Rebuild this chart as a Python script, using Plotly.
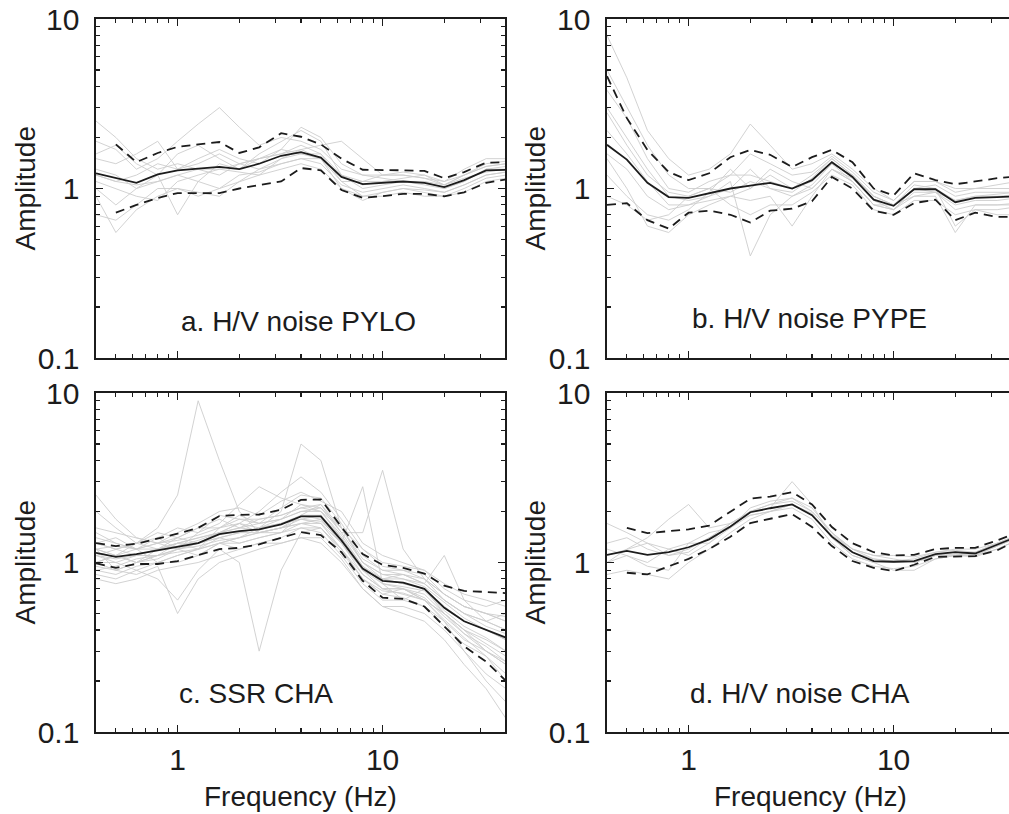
import plotly.graph_objects as go
import math

# ---------------- data ----------------
FREQ = [0.4, 0.5, 0.63, 0.8, 1.0, 1.26, 1.6, 2.0, 2.5, 3.2, 4.0, 5.0, 6.3, 8.0,
        10, 12.6, 16, 20, 25, 32, 40]

X_TICKS = [1, 10]
X_TICK_TEXT = ["1", "10"]
X_MINOR = [0.4, 0.5, 0.6, 0.7, 0.8, 0.9, 2, 3, 4, 5, 6, 7, 8, 9, 20, 30, 40]
Y_TICKS = [0.1, 1, 10]
Y_TICK_TEXT = ["0.1", "1", "10"]
Y_MINOR = [0.2, 0.3, 0.4, 0.5, 0.6, 0.7, 0.8, 0.9, 2, 3, 4, 5, 6, 7, 8, 9]

LABELS = ["a. H/V noise PYLO", "b. H/V noise PYPE", "c. SSR CHA", "d. H/V noise CHA"]
Y_TITLE = "Amplitude"
X_TITLE = "Frequency (Hz)"

# panel a
A_MEAN = [1.23, 1.15, 1.08, 1.21, 1.28, 1.31, 1.34, 1.30, 1.40, 1.56, 1.64, 1.52, 1.17, 1.06, 1.08, 1.10, 1.08, 1.02, 1.12, 1.28, 1.29]
A_UP = [None, 1.82, 1.43, 1.62, 1.76, 1.82, 1.88, 1.62, 1.75, 2.12, 2.02, 1.82, 1.50, 1.29, 1.29, 1.28, 1.27, 1.15, 1.25, 1.42, 1.43]
A_LO = [None, 0.72, 0.80, 0.88, 0.94, 0.94, 0.94, 1.00, 1.05, 1.10, 1.32, 1.28, 0.98, 0.88, 0.90, 0.93, 0.93, 0.90, 0.95, 1.08, 1.13]
A_GRAY = [
    [1.9, 1.7, 1.3, 1.5, 1.9, 2.4, 3.0, 2.3, 1.8, 2.0, 1.9, 1.7, 1.3, 1.2, 1.2, 1.25, 1.2, 1.1, 1.3, 1.5, 1.5],
    [0.9, 0.55, 0.75, 0.9, 1.0, 0.95, 0.9, 1.1, 1.3, 1.4, 1.5, 1.5, 1.0, 0.85, 0.95, 1.0, 0.95, 0.9, 1.0, 1.15, 1.2],
    [1.3, 1.2, 1.0, 1.2, 0.7, 1.1, 1.4, 1.3, 1.6, 1.9, 2.2, 1.9, 1.2, 1.0, 1.05, 1.1, 1.05, 1.0, 1.1, 1.3, 1.35],
    [1.5, 1.4, 1.6, 1.9, 1.3, 1.5, 1.7, 1.5, 1.4, 1.7, 1.6, 1.5, 1.1, 1.1, 1.1, 1.15, 1.2, 1.05, 1.15, 1.25, 1.3],
    [1.0, 0.8, 1.0, 1.1, 1.2, 1.1, 1.0, 1.2, 1.25, 1.4, 1.5, 1.4, 1.05, 0.95, 1.0, 1.05, 1.0, 0.95, 1.05, 1.2, 1.25],
    [2.5, 2.0, 1.5, 1.3, 1.4, 1.3, 1.2, 1.4, 1.5, 1.7, 2.3, 2.0, 1.4, 1.2, 1.15, 1.1, 1.1, 1.05, 1.2, 1.4, 1.45],
    [1.1, 1.0, 0.9, 0.85, 1.1, 1.2, 1.3, 1.25, 1.2, 1.3, 1.4, 1.3, 1.0, 0.9, 0.95, 1.0, 0.98, 0.95, 1.05, 1.2, 1.25],
    [0.7, 0.65, 0.8, 1.0, 1.0, 0.9, 1.0, 1.1, 1.2, 1.5, 1.6, 1.6, 1.1, 0.9, 0.9, 0.95, 0.9, 0.9, 0.95, 1.1, 1.15],
    [1.6, 1.8, 1.4, 1.2, 1.6, 1.8, 1.5, 1.3, 1.5, 1.6, 1.8, 1.6, 1.2, 1.1, 1.2, 1.2, 1.15, 1.1, 1.2, 1.35, 1.4],
    [1.2, 1.1, 1.2, 1.4, 1.3, 1.4, 1.6, 1.4, 1.3, 1.5, 1.7, 1.5, 1.2, 1.05, 1.1, 1.1, 1.1, 1.0, 1.1, 1.3, 1.3],
    [1.2, 1.1, 1.05, 1.1, 1.2, 1.3, 1.3, 1.4, 1.5, 1.6, 1.7, 1.8, 1.9, 1.5, 1.2, 1.2, 1.15, 1.05, 1.2, 1.35, 1.4],
]

# panel b
B_MEAN = [1.81, 1.48, 1.08, 0.89, 0.88, 0.94, 1.00, 1.04, 1.08, 1.00, 1.12, 1.43, 1.17, 0.86, 0.79, 0.99, 0.99, 0.83, 0.88, 0.89, 0.90]
B_UP = [4.6, 2.6, 1.69, 1.25, 1.12, 1.23, 1.53, 1.69, 1.58, 1.34, 1.53, 1.69, 1.43, 1.00, 0.91, 1.23, 1.12, 1.06, 1.10, 1.15, 1.18]
B_LO = [0.80, 0.82, 0.65, 0.58, 0.72, 0.74, 0.70, 0.63, 0.74, 0.76, 0.84, 1.17, 1.00, 0.74, 0.70, 0.82, 0.86, 0.65, 0.72, 0.68, 0.68]
B_GRAY = [
    [8.0, 4.5, 2.2, 1.5, 1.2, 1.3, 1.6, 2.4, 1.8, 1.3, 1.4, 1.6, 1.3, 1.0, 0.85, 1.1, 1.1, 1.0, 1.0, 1.05, 1.1],
    [3.0, 2.0, 1.3, 0.9, 0.85, 0.9, 1.1, 0.4, 0.7, 0.9, 1.0, 1.3, 1.1, 0.8, 0.75, 0.9, 0.95, 0.75, 0.8, 0.8, 0.82],
    [1.5, 1.0, 0.6, 0.55, 0.7, 0.8, 0.9, 1.0, 1.2, 1.0, 1.1, 1.4, 1.1, 0.8, 0.75, 1.0, 1.0, 0.6, 0.75, 0.75, 0.78],
    [2.2, 1.6, 1.1, 0.8, 0.8, 0.9, 1.0, 1.3, 1.0, 0.95, 1.15, 1.5, 1.2, 0.9, 0.8, 1.05, 1.0, 0.85, 0.9, 0.9, 0.92],
    [1.2, 0.9, 0.7, 0.65, 0.75, 0.95, 1.3, 1.0, 1.3, 1.1, 1.0, 1.3, 1.15, 0.85, 0.75, 0.95, 0.95, 0.8, 0.85, 0.85, 0.88],
    [5.0, 3.0, 1.8, 1.2, 1.0, 1.0, 0.95, 1.1, 1.0, 0.9, 1.05, 1.4, 1.2, 0.9, 0.8, 1.0, 1.05, 0.9, 0.95, 0.95, 0.95],
    [0.9, 0.8, 0.65, 0.7, 0.9, 1.0, 0.8, 0.7, 0.8, 0.8, 0.95, 1.2, 1.05, 0.75, 0.7, 0.85, 0.85, 0.7, 0.75, 0.7, 0.7],
    [2.8, 1.8, 1.2, 0.95, 0.9, 1.0, 1.2, 1.6, 1.4, 1.2, 1.25, 1.55, 1.25, 0.95, 0.85, 1.1, 1.1, 0.95, 1.0, 1.0, 1.0],
    [1.6, 1.3, 0.9, 0.75, 0.8, 0.85, 0.9, 0.85, 0.9, 0.6, 0.9, 1.3, 1.1, 0.8, 0.8, 0.9, 0.9, 0.55, 0.8, 0.8, 0.8],
    [3.8, 2.6, 1.5, 1.0, 0.95, 1.1, 1.2, 1.2, 1.1, 1.0, 1.2, 1.5, 1.2, 0.9, 0.8, 1.0, 0.95, 0.85, 0.9, 0.92, 0.95],
]

# panel c
C_MEAN = [1.14, 1.08, 1.12, 1.18, 1.24, 1.30, 1.47, 1.53, 1.57, 1.68, 1.87, 1.87, 1.35, 0.92, 0.78, 0.76, 0.70, 0.54, 0.45, 0.40, 0.36]
C_UP = [1.30, 1.25, 1.29, 1.38, 1.48, 1.60, 1.88, 1.91, 1.92, 2.05, 2.34, 2.36, 1.62, 1.12, 0.97, 0.93, 0.86, 0.73, 0.68, 0.67, 0.66]
C_LO = [0.99, 0.93, 0.98, 0.98, 1.02, 1.10, 1.20, 1.22, 1.28, 1.40, 1.51, 1.45, 1.15, 0.78, 0.62, 0.61, 0.55, 0.42, 0.32, 0.26, 0.20]
C_GRAY = [
    [1.1, 1.0, 1.1, 1.2, 1.3, 1.4, 1.5, 1.6, 1.7, 1.8, 2.0, 2.0, 1.4, 0.9, 0.8, 0.75, 0.7, 0.55, 0.45, 0.4, 0.35],
    [1.4, 1.3, 1.2, 1.4, 1.6, 1.5, 1.9, 1.8, 1.7, 2.1, 2.5, 2.4, 1.7, 1.1, 0.9, 0.9, 0.8, 0.65, 0.55, 0.5, 0.45],
    [0.9, 0.85, 0.95, 1.0, 1.0, 1.1, 1.3, 1.3, 1.4, 1.5, 1.6, 1.5, 1.1, 0.75, 0.6, 0.6, 0.55, 0.42, 0.33, 0.28, 0.22],
    [1.2, 1.1, 1.3, 1.6, 2.5, 9.0, 4.0, 2.0, 1.5, 1.6, 1.8, 1.9, 1.3, 0.9, 0.7, 0.7, 0.6, 0.5, 0.4, 0.35, 0.3],
    [1.0, 1.0, 0.9, 0.8, 0.6, 0.9, 1.2, 1.0, 0.3, 0.9, 1.5, 1.6, 1.2, 0.85, 0.7, 0.65, 0.6, 0.45, 0.35, 0.3, 0.25],
    [2.5, 1.8, 1.4, 1.3, 1.2, 1.5, 1.7, 2.2, 2.8, 2.4, 2.2, 2.1, 1.5, 1.0, 0.85, 0.8, 0.75, 0.6, 0.5, 0.45, 0.4],
    [1.3, 1.2, 1.1, 1.1, 1.2, 1.3, 1.4, 1.5, 1.6, 2.0, 5.0, 4.0, 1.6, 1.0, 0.8, 0.75, 0.7, 0.55, 0.45, 0.4, 0.35],
    [0.8, 0.75, 0.8, 0.9, 0.95, 1.0, 1.1, 1.2, 1.3, 1.3, 1.4, 1.3, 1.0, 0.7, 0.55, 0.5, 0.45, 0.35, 0.25, 0.18, 0.12],
    [1.6, 1.5, 1.4, 1.3, 1.5, 1.7, 2.0, 2.1, 1.9, 2.3, 2.6, 2.3, 2.0, 1.3, 1.1, 1.0, 0.9, 0.75, 0.65, 0.6, 0.55],
    [1.0, 1.1, 1.2, 1.0, 1.1, 1.2, 1.3, 1.4, 1.5, 1.6, 1.7, 1.8, 1.3, 0.85, 0.7, 0.7, 0.65, 0.5, 0.4, 0.33, 0.28],
    [1.2, 0.9, 1.0, 1.1, 1.3, 1.2, 1.6, 1.7, 1.5, 1.5, 1.9, 2.2, 1.5, 1.5, 3.5, 1.2, 0.8, 0.6, 0.5, 0.42, 0.38],
    [1.1, 1.2, 1.3, 1.4, 1.2, 1.1, 1.3, 1.4, 1.6, 1.7, 1.8, 1.7, 1.2, 0.8, 0.65, 0.7, 0.6, 0.5, 0.38, 0.3, 0.26],
    [0.95, 0.9, 1.0, 1.1, 1.15, 1.2, 1.4, 1.5, 1.5, 1.6, 1.9, 1.8, 1.3, 0.9, 0.75, 0.72, 0.68, 0.52, 0.42, 0.36, 0.3],
    [1.3, 1.4, 1.2, 1.2, 1.4, 1.6, 1.8, 1.6, 1.8, 1.9, 2.1, 2.0, 1.6, 1.2, 1.0, 0.95, 0.9, 0.7, 0.6, 0.55, 0.6],
    [1.0, 0.9, 0.85, 0.95, 0.5, 0.8, 1.0, 1.1, 1.2, 1.3, 1.4, 1.4, 1.05, 0.7, 0.55, 0.55, 0.5, 0.4, 0.3, 0.2, 0.15],
    [2.0, 1.6, 1.3, 1.2, 1.3, 1.4, 1.5, 1.7, 2.0, 2.6, 3.2, 2.6, 1.8, 1.2, 0.95, 0.9, 0.85, 0.65, 0.55, 0.5, 0.45],
    [1.1, 1.05, 1.1, 1.2, 1.25, 1.35, 1.5, 1.6, 1.55, 1.7, 1.9, 1.9, 1.4, 0.95, 0.8, 0.8, 0.72, 0.58, 0.47, 0.4, 0.35],
    [0.85, 0.8, 0.9, 1.0, 1.1, 1.2, 1.3, 1.2, 1.3, 1.4, 1.6, 1.6, 1.2, 0.8, 0.65, 0.62, 0.55, 0.45, 0.3, 0.22, 0.18],
    [1.5, 1.3, 1.2, 1.3, 1.4, 1.6, 1.6, 1.9, 1.7, 1.8, 2.0, 2.1, 1.6, 1.0, 0.85, 0.85, 0.75, 0.6, 0.5, 0.45, 0.5],
    [1.2, 1.1, 1.0, 1.2, 1.3, 1.3, 1.4, 1.3, 1.4, 1.5, 1.7, 1.7, 1.3, 2.8, 0.75, 0.6, 0.7, 0.5, 0.4, 0.3, 0.25],
    [1.0, 1.1, 1.0, 1.05, 1.2, 1.3, 1.5, 1.5, 1.6, 1.7, 1.8, 1.75, 1.35, 0.9, 0.8, 0.85, 0.75, 1.1, 0.6, 0.45, 0.4],
    [1.3, 1.2, 1.3, 1.5, 1.4, 1.3, 1.5, 1.7, 1.6, 1.8, 2.2, 2.0, 1.45, 0.95, 0.75, 0.7, 0.62, 0.48, 0.38, 0.32, 0.26],
    [0.9, 0.95, 1.05, 1.1, 1.2, 1.25, 1.35, 1.4, 1.5, 1.6, 1.7, 1.6, 1.15, 0.8, 0.68, 0.66, 0.6, 0.46, 0.36, 0.28, 0.2],
    [1.2, 1.25, 1.2, 1.3, 1.35, 1.45, 1.6, 1.8, 1.8, 1.9, 2.1, 2.2, 1.6, 1.05, 0.9, 0.85, 0.8, 0.65, 0.55, 0.5, 0.48],
]

# panel d
D_MEAN = [1.11, 1.17, 1.11, 1.15, 1.23, 1.37, 1.63, 1.98, 2.09, 2.20, 1.90, 1.42, 1.15, 1.02, 1.01, 1.02, 1.12, 1.15, 1.13, 1.28, 1.42]
D_UP = [None, 1.60, 1.49, 1.53, 1.57, 1.65, 2.00, 2.38, 2.45, 2.60, 2.20, 1.62, 1.30, 1.15, 1.10, 1.11, 1.20, 1.22, 1.22, 1.35, 1.50]
D_LO = [None, 0.87, 0.85, 0.95, 1.05, 1.20, 1.42, 1.71, 1.82, 1.93, 1.62, 1.25, 1.02, 0.93, 0.89, 0.97, 1.08, 1.08, 1.09, 1.18, 1.35]
D_GRAY = [
    [1.0, 1.2, 1.4, 1.8, 2.2, 1.6, 1.7, 2.0, 2.2, 2.4, 2.0, 1.5, 1.2, 1.05, 1.0, 1.0, 1.1, 1.15, 1.1, 1.25, 1.4],
    [1.3, 1.4, 1.2, 1.1, 1.2, 1.4, 1.7, 2.0, 2.1, 3.0, 2.2, 1.4, 1.1, 1.0, 1.0, 1.0, 1.1, 1.1, 1.15, 1.3, 1.45],
    [0.85, 0.9, 0.85, 0.8, 1.0, 1.2, 1.5, 1.8, 2.0, 2.1, 1.8, 1.3, 1.05, 0.95, 0.92, 0.95, 1.05, 1.1, 1.1, 1.2, 1.35],
    [1.2, 1.1, 1.0, 1.2, 1.3, 1.3, 1.6, 2.1, 2.3, 2.4, 2.1, 1.5, 1.15, 1.05, 1.02, 1.05, 1.15, 1.18, 1.15, 1.3, 1.45],
    [1.1, 1.2, 1.3, 1.1, 1.15, 1.4, 1.6, 1.9, 2.0, 2.2, 1.9, 1.45, 1.2, 1.1, 1.1, 1.08, 1.15, 1.2, 1.2, 1.3, 1.4],
    [1.7, 1.5, 1.3, 1.2, 1.1, 1.3, 1.7, 1.9, 2.0, 2.2, 1.95, 1.4, 1.1, 1.0, 0.9, 0.9, 1.05, 1.1, 1.08, 1.2, 1.35],
    [1.0, 1.1, 0.95, 0.9, 1.3, 1.5, 1.6, 2.0, 2.2, 2.3, 2.0, 1.5, 1.2, 1.1, 1.05, 1.0, 1.1, 1.12, 1.1, 1.25, 1.4],
]

# ---------------- figure ----------------
W, H = 1009, 814
FONT = "Liberation Sans, Arial, Helvetica, sans-serif"
INK = "#1c1c1c"
GRAY = "#cdcdcd"

def fx(p):
    return p / W

def fy(p):
    return 1 - p / H

LEFT_X = (96, 505)
RIGHT_X = (607, W)
TOP_Y = (19, 358)
BOT_Y = (393, 732)
PX_PER_DEC = 205.0
LOG_MIN = math.log10(0.4)

panels = [
    ("x", "y", LEFT_X, TOP_Y, A_MEAN, A_UP, A_LO, A_GRAY, LABELS[0], False, True),
    ("x2", "y2", RIGHT_X, TOP_Y, B_MEAN, B_UP, B_LO, B_GRAY, LABELS[1], False, False),
    ("x3", "y3", LEFT_X, BOT_Y, C_MEAN, C_UP, C_LO, C_GRAY, LABELS[2], True, True),
    ("x4", "y4", RIGHT_X, BOT_Y, D_MEAN, D_UP, D_LO, D_GRAY, LABELS[3], True, False),
]

label_pos = [(298, 321), (809, 318), (256, 693), (800, 693)]

fig = go.Figure()
annotations = []
layout = dict(
    width=W, height=H, margin=dict(l=0, r=0, t=0, b=0, autoexpand=False),
    paper_bgcolor="white", plot_bgcolor="white", showlegend=False,
)

for i, (xa, ya, xb, yb, mean, up, lo, gray, label, show_xlab, full) in enumerate(panels):
    for g in gray:
        fig.add_trace(go.Scatter(x=FREQ, y=g, mode="lines", xaxis=xa, yaxis=ya,
                                 line=dict(color=GRAY, width=0.9), hoverinfo="skip"))
    for s in (up, lo):
        fig.add_trace(go.Scatter(x=FREQ, y=s, mode="lines", xaxis=xa, yaxis=ya,
                                 line=dict(color=INK, width=1.8, dash="9px,6px")))
    fig.add_trace(go.Scatter(x=FREQ, y=mean, mode="lines", xaxis=xa, yaxis=ya,
                             line=dict(color=INK, width=1.8)))

    right_log = LOG_MIN + (xb[1] - xb[0]) / PX_PER_DEC
    xname = "xaxis" + xa[1:]
    yname = "yaxis" + ya[1:]
    layout[xname] = dict(
        type="log", domain=[fx(xb[0]), fx(xb[1])], range=[LOG_MIN, right_log],
        anchor=ya, showgrid=False, zeroline=False,
        showline=True, linecolor=INK, linewidth=1.6, mirror="ticks",
        ticks="inside", ticklen=7, tickwidth=1.3, tickcolor=INK,
        tickmode="array", tickvals=X_TICKS, ticktext=X_TICK_TEXT,
        showticklabels=show_xlab, ticklabelstandoff=0,
        tickfont=dict(family=FONT, size=30, color=INK),
        minor=dict(ticks="inside", ticklen=4, tickwidth=1.1, tickcolor=INK,
                   tickmode="array", tickvals=X_MINOR, showgrid=False),
    )
    layout[yname] = dict(
        type="log", domain=[fy(yb[1]), fy(yb[0])], range=[-1, 1],
        anchor=xa, showgrid=False, zeroline=False,
        showline=True, linecolor=INK, linewidth=1.6,
        mirror="ticks" if full else False,
        ticks="inside", ticklen=7, tickwidth=1.3, tickcolor=INK,
        tickmode="array", tickvals=Y_TICKS, ticktext=Y_TICK_TEXT,
        ticklabelstandoff=9,
        tickfont=dict(family=FONT, size=30, color=INK),
        minor=dict(ticks="inside", ticklen=4, tickwidth=1.1, tickcolor=INK,
                   tickmode="array", tickvals=Y_MINOR, showgrid=False),
    )

    lx, ly = label_pos[i]
    annotations.append(dict(text=label, x=fx(lx), y=fy(ly), xref="paper", yref="paper",
                            xanchor="center", yanchor="middle", showarrow=False,
                            font=dict(family=FONT, size=28, color=INK)))
    tx = 25 if xb[0] < 300 else 535
    annotations.append(dict(text=Y_TITLE, x=fx(tx), y=fy((yb[0] + yb[1]) / 2),
                            xref="paper", yref="paper", xanchor="center", yanchor="middle",
                            textangle=-90, showarrow=False,
                            font=dict(family=FONT, size=28, color=INK)))
    if show_xlab:
        cx = 300 if xb[0] < 300 else 810
        annotations.append(dict(text=X_TITLE, x=fx(cx), y=fy(796), xref="paper", yref="paper",
                                xanchor="center", yanchor="middle", showarrow=False,
                                font=dict(family=FONT, size=28, color=INK)))

layout["annotations"] = annotations
fig.update_layout(**layout)
fig.write_html(
    "out.html",
    config={"displayModeBar": False, "staticPlot": True},
    post_script="document.body.style.margin='0px';document.body.style.overflow='hidden';",
)
